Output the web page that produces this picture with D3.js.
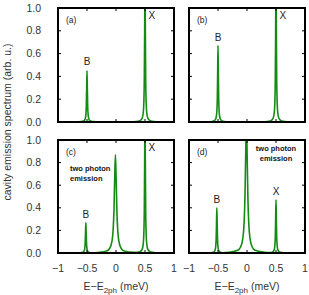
<!DOCTYPE html>
<html><head><meta charset="utf-8">
<script src="https://cdn.jsdelivr.net/npm/d3@7"></script>
<style>body{margin:0;background:#fff}svg{display:block}text{font-family:"Liberation Sans",Arial,sans-serif}</style>
</head><body><svg id="c" width="309" height="295"></svg>
<script>
// energy axis samples (meV) for panels a,b and c,d
const xAB = [-1, -0.7, -0.6, -0.55, -0.53, -0.52, -0.512, -0.506, -0.5, -0.494, -0.488, -0.48, -0.47, -0.45, -0.4, -0.3, 0, 0.3, 0.4, 0.45, 0.47, 0.48, 0.488, 0.494, 0.5, 0.506, 0.512, 0.52, 0.53, 0.55, 0.6, 0.7, 1];
const xCD = [-1, -0.72, -0.62, -0.57, -0.55, -0.54, -0.532, -0.526, -0.52, -0.514, -0.508, -0.5, -0.49, -0.47, -0.42, -0.31, -0.16, -0.11, -0.07, -0.05, -0.035, -0.022, -0.01, 0.002, 0.015, 0.03, 0.05, 0.09, 0.14, 0.3, 0.4, 0.45, 0.47, 0.48, 0.488, 0.494, 0.5, 0.506, 0.512, 0.52, 0.53, 0.55, 0.6, 0.7, 1];
// spectra
const yA = [0, 0.0007, 0.003, 0.011, 0.030, 0.062, 0.139, 0.288, 0.45, 0.288, 0.139, 0.062, 0.030, 0.011, 0.003, 0.0007, 0, 0.002, 0.008, 0.031, 0.083, 0.173, 0.385, 0.8, 1.25, 0.8, 0.385, 0.173, 0.083, 0.031, 0.008, 0.002, 0];
const yB = [0, 0.001, 0.004, 0.017, 0.044, 0.092, 0.206, 0.429, 0.67, 0.429, 0.206, 0.092, 0.044, 0.017, 0.004, 0.001, 0, 0.002, 0.008, 0.031, 0.083, 0.173, 0.385, 0.8, 1.25, 0.8, 0.385, 0.173, 0.083, 0.031, 0.008, 0.002, 0];
const yC = [0, 0.0004, 0.0017, 0.0068, 0.018, 0.037, 0.083, 0.173, 0.27, 0.173, 0.083, 0.037, 0.018, 0.0068, 0.0017, 0.005, 0.018, 0.040, 0.103, 0.202, 0.379, 0.671, 0.87, 0.671, 0.379, 0.202, 0.103, 0.040, 0.018, 0.006, 0.008, 0.031, 0.083, 0.173, 0.385, 0.8, 1.25, 0.8, 0.385, 0.173, 0.083, 0.031, 0.008, 0.002, 0];
const yD = [0, 0.0006, 0.0026, 0.01, 0.026, 0.055, 0.123, 0.256, 0.40, 0.256, 0.123, 0.055, 0.026, 0.01, 0.0026, 0.0061, 0.024, 0.053, 0.136, 0.267, 0.501, 0.887, 1.15, 0.887, 0.501, 0.267, 0.136, 0.053, 0.024, 0.007, 0.003, 0.012, 0.031, 0.065, 0.145, 0.30, 0.47, 0.30, 0.145, 0.065, 0.031, 0.012, 0.003, 0.0008, 0];
const xTicks = [-1, -0.5, 0, 0.5, 1];
const xTickLabels = ["\u22121", "\u22120.5", "0", "0.5", "1"];
const yTicks = [0, 0.2, 0.4, 0.6, 0.8, 1.0];
const yTickLabels = ["0.0", "0.2", "0.4", "0.6", "0.8", "1.0"];
const panelTags = ["(a)", "(b)", "(c)", "(d)"];
// peak labels: [panel, text, x (meV), y (value)]
const peakLabels = [
  [0, "B", -0.5, 0.53], [0, "X", 0.62, 0.93],
  [1, "B", -0.5, 0.74], [1, "X", 0.62, 0.93],
  [2, "B", -0.52, 0.34], [2, "X", 0.62, 0.93],
  [3, "B", -0.52, 0.47], [3, "X", 0.5, 0.54]
];

const svg = d3.select("#c");
const green = "#128c12";
const panels = [
  {x0: 58, x1: 174, y0: 8, y1: 122, xs: xAB, ys: yA, left: true, bottom: false},
  {x0: 189, x1: 305, y0: 8, y1: 122, xs: xAB, ys: yB, left: false, bottom: false},
  {x0: 58, x1: 174, y0: 140, y1: 253, xs: xCD, ys: yC, left: true, bottom: true},
  {x0: 189, x1: 305, y0: 140, y1: 253, xs: xCD, ys: yD, left: false, bottom: true}
];

panels.forEach((p, i) => {
  const x = d3.scaleLinear().domain([-1, 1]).range([p.x0, p.x1]);
  const y = d3.scaleLinear().domain([0, 1]).range([p.y1, p.y0]);
  const g = svg.append("g");
  g.append("clipPath").attr("id", "clip" + i).append("rect")
    .attr("x", p.x0).attr("y", p.y0).attr("width", p.x1 - p.x0).attr("height", p.y1 - p.y0);
  const pts = p.xs.map((v, k) => [v, p.ys[k]]);
  const line = d3.line().x(d => x(d[0])).y(d => y(d[1])).curve(d3.curveMonotoneX);
  g.append("path").datum(pts).attr("d", line).attr("fill", "none")
    .attr("stroke", green).attr("stroke-width", 1.6).attr("clip-path", `url(#clip${i})`);
  // inner ticks
  const tk = g.append("g").attr("stroke", "#000").attr("stroke-width", 1);
  [-0.5, 0, 0.5].forEach(t => {
    tk.append("line").attr("x1", x(t)).attr("x2", x(t)).attr("y1", p.y1).attr("y2", p.y1 - 3);
    tk.append("line").attr("x1", x(t)).attr("x2", x(t)).attr("y1", p.y0).attr("y2", p.y0 + 3);
  });
  [0.2, 0.4, 0.6, 0.8].forEach(t => {
    tk.append("line").attr("x1", p.x0).attr("x2", p.x0 + 3).attr("y1", y(t)).attr("y2", y(t));
    tk.append("line").attr("x1", p.x1).attr("x2", p.x1 - 3).attr("y1", y(t)).attr("y2", y(t));
  });
  g.append("rect").attr("x", p.x0).attr("y", p.y0).attr("width", p.x1 - p.x0).attr("height", p.y1 - p.y0)
    .attr("fill", "none").attr("stroke", "#000").attr("stroke-width", 2);
  if (p.left) {
    yTicks.forEach((t, k) => g.append("text").attr("x", p.x0 - 17).attr("y", y(t)).attr("dy", "0.35em")
      .attr("text-anchor", "end").attr("font-size", 10.5).attr("fill", "#333").text(yTickLabels[k]));
  }
  if (p.bottom) {
    xTicks.forEach((t, k) => g.append("text").attr("x", x(t)).attr("y", 268).attr("dy", "0.35em")
      .attr("text-anchor", "middle").attr("font-size", 10.5).attr("fill", "#333").text(xTickLabels[k]));
    const xl = g.append("text").attr("x", x(0)).attr("y", 290).attr("text-anchor", "middle")
      .attr("font-size", 10.5).attr("fill", "#333");
    xl.append("tspan").text("E\u2212E");
    xl.append("tspan").attr("font-size", 8).attr("dy", 3).text("2ph");
    xl.append("tspan").attr("dy", -3).text(" (meV)");
  }
  g.append("text").attr("x", p.x0 + 8).attr("y", p.y0 + 15).attr("font-size", 8.5).attr("fill", "#222").text(panelTags[i]);
  peakLabels.filter(d => d[0] === i).forEach(d => g.append("text").attr("x", x(d[2])).attr("y", y(d[3]))
    .attr("dy", "0.35em").attr("text-anchor", "middle").attr("font-size", 10).attr("fill", "#222").text(d[1]));
});

// "two photon emission" annotations
[[70, 171, "start"], [276, 151, "middle"]].forEach((a, k) => {
  const t = svg.append("text").attr("font-size", 7.5).attr("font-weight", "bold").attr("fill", "#111")
    .attr("text-anchor", a[2]);
  t.append("tspan").attr("x", a[0]).attr("y", a[1]).text("two photon");
  t.append("tspan").attr("x", a[0]).attr("y", a[1] + 10).text("emission");
});

svg.append("text").attr("transform", "translate(11,122) rotate(-90)").attr("text-anchor", "middle")
  .attr("font-size", 10.5).attr("fill", "#333").text("cavity emission spectrum (arb. u.)");
</script></body></html>
